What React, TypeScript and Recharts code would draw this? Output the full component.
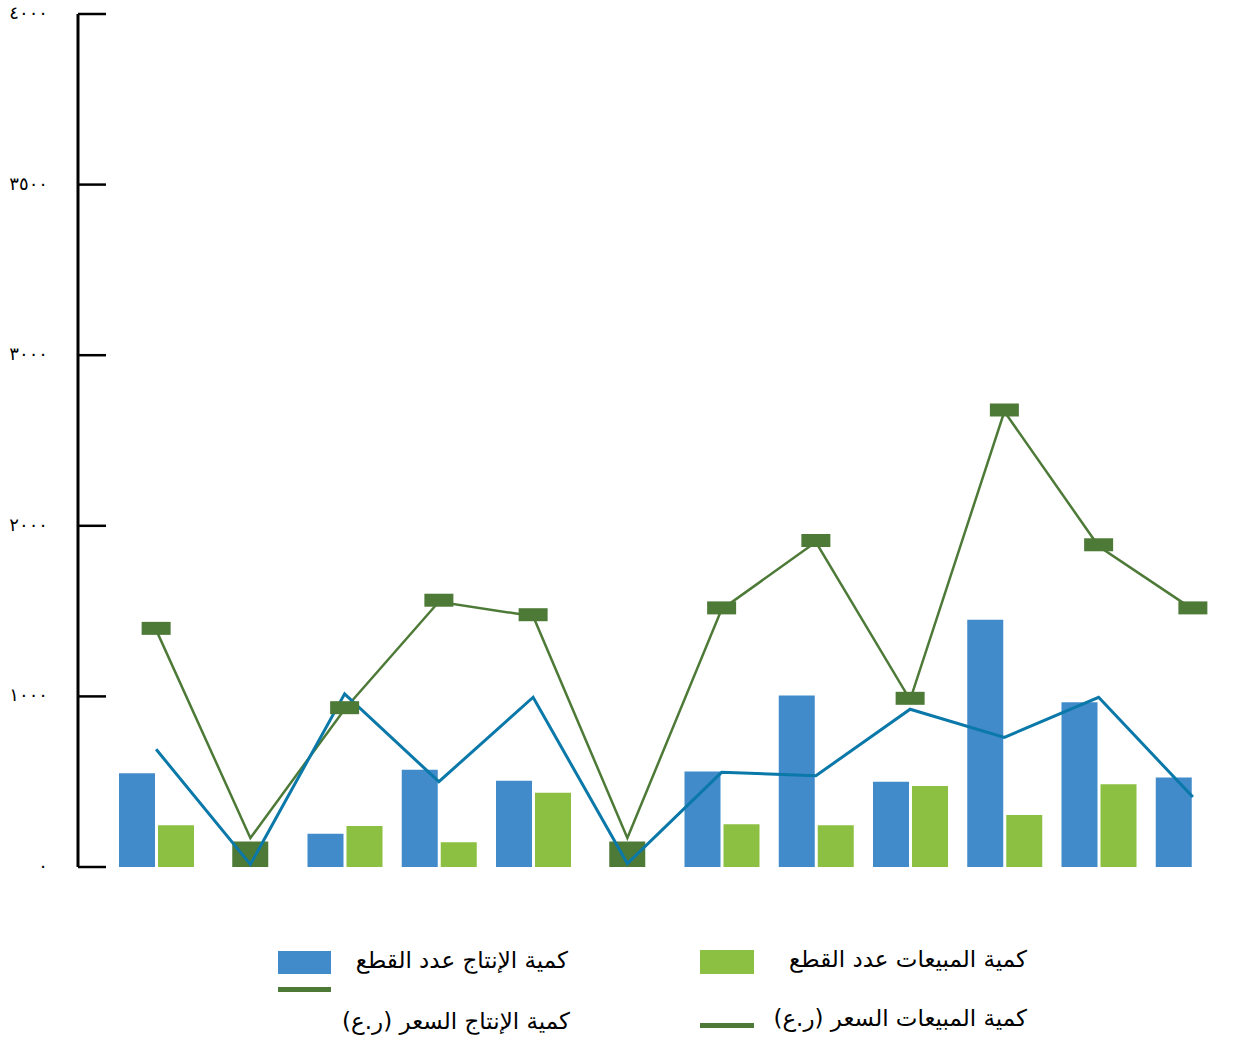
import { Bar, ComposedChart, Line, XAxis, YAxis } from "recharts";

// 12 periods, no labels are shown on the category axis
const categories = ["١", "٢", "٣", "٤", "٥", "٦", "٧", "٨", "٩", "١٠", "١١", "١٢"];

const productionQty = [550, 0, 195, 570, 505, 0, 560, 1005, 500, 1450, 965, 525];
const salesQty = [245, 0, 240, 145, 435, 0, 250, 245, 475, 305, 485, 0];
const productionPrice = [1390, 170, 925, 1555, 1470, 170, 1510, 1905, 980, 2670, 1880, 1510];
const salesPrice = [690, 15, 1015, 500, 995, 20, 555, 535, 925, 760, 995, 410];
// dark blocks sitting on the axis where no quantities were recorded
const emptyMarks = [0, 150, 0, 0, 0, 150, 0, 0, 0, 0, 0, 0];

const yTicks = [0, 1000, 2000, 3000, 4000, 5000];
const yTickLabels = ["٠", "١٠٠٠", "٢٠٠٠", "٣٠٠٠", "٣٥٠٠", "٤٠٠٠"];

const legendItems = [
  { name: "كمية الإنتاج عدد القطع", color: "#418bca" },
  { name: "كمية المبيعات عدد القطع", color: "#8bc042" },
  { name: "كمية الإنتاج السعر (ر.ع)", color: "#4e7a38" },
  { name: "كمية المبيعات السعر (ر.ع)", color: "#4e7a38" },
];

const data = categories.map((name, i) => ({
  name,
  productionQty: productionQty[i],
  salesQty: salesQty[i],
  productionPrice: productionPrice[i],
  salesPrice: salesPrice[i],
  emptyMark: emptyMarks[i],
}));

const FONT = "'DejaVu Sans', sans-serif";
const DARK = "#4e7a38";

function YTick(props: any) {
  const { x, y, payload } = props;
  const i = yTicks.indexOf(payload.value);
  return (
    <g>
      <line x1={x + 30} x2={x + 58} y1={y} y2={y} stroke="#000" strokeWidth={2.5} />
      <text
        x={x}
        y={y}
        dy={5}
        textAnchor="end"
        fontSize={18}
        fontFamily={FONT}
        fill="#000"
      >
        {yTickLabels[i]}
      </text>
    </g>
  );
}

function PriceMarker(props: any) {
  const { cx, cy, index } = props;
  if (cx == null || cy == null || emptyMarks[index] > 0) return <g key={index} />;
  return <rect key={index} x={cx - 14.5} y={cy - 8} width={29} height={13} fill={DARK} />;
}

// legend boxes placed like the original: swatch on the left, text right-aligned
const legendLayout = [
  { sx: 278, sy: 951, sw: 53, sh: 23, right: 680, ty: 945 },
  { sx: 700, sy: 950, sw: 54, sh: 24, right: 221, ty: 944 },
  { sx: 278, sy: 987, sw: 53, sh: 5, right: 678, ty: 1006 },
  { sx: 700, sy: 1023, sw: 54, sh: 5, right: 221, ty: 1003 },
];

function ChartLegend() {
  return (
    <>
      {legendItems.map((item, i) => {
        const l = legendLayout[i];
        return (
          <div key={item.name}>
            <div
              style={{
                position: "absolute",
                left: l.sx,
                top: l.sy,
                width: l.sw,
                height: l.sh,
                background: item.color,
              }}
            />
            <div
              style={{
                position: "absolute",
                right: l.right,
                top: l.ty,
                direction: "rtl",
                fontFamily: FONT,
                fontSize: 23,
                lineHeight: "30px",
                color: "#000",
                whiteSpace: "nowrap",
              }}
            >
              {item.name}
            </div>
          </div>
        );
      })}
    </>
  );
}

export default function App() {
  return (
    <div style={{ position: "absolute", left: 0, top: 0, width: 1248, height: 1042, background: "#fff" }}>
      <ComposedChart
        width={1248}
        height={1042}
        data={data}
        margin={{ top: 14, right: 0, bottom: 175, left: 0 }}
        barGap={3}
      >
        <XAxis
          dataKey="name"
          height={0}
          tick={false}
          tickLine={false}
          axisLine={{ stroke: "#000", strokeWidth: 3 }}
          padding={{ left: 31, right: 8 }}
        />
        <XAxis xAxisId="marks" dataKey="name" hide padding={{ left: 31, right: 8 }} />
        <YAxis
          width={78}
          domain={[0, 5000]}
          ticks={yTicks}
          interval={0}
          tickSize={0}
          tickMargin={30}
          tickLine={false}
          tick={<YTick />}
          axisLine={{ stroke: "#000", strokeWidth: 3 }}
        />
        <Bar dataKey="productionQty" fill="#418bca" barSize={36} isAnimationActive={false} />
        <Bar dataKey="salesQty" fill="#8bc042" barSize={36} isAnimationActive={false} />
        <Bar
          dataKey="emptyMark"
          xAxisId="marks"
          fill={DARK}
          barSize={36}
          isAnimationActive={false}
        />
        <Line
          type="linear"
          dataKey="productionPrice"
          stroke={DARK}
          strokeWidth={2.5}
          dot={<PriceMarker />}
          activeDot={false}
          isAnimationActive={false}
        />
        <Line
          type="linear"
          dataKey="salesPrice"
          stroke="#0a78a8"
          strokeWidth={3}
          dot={false}
          activeDot={false}
          isAnimationActive={false}
        />
      </ComposedChart>
      <ChartLegend />
    </div>
  );
}
